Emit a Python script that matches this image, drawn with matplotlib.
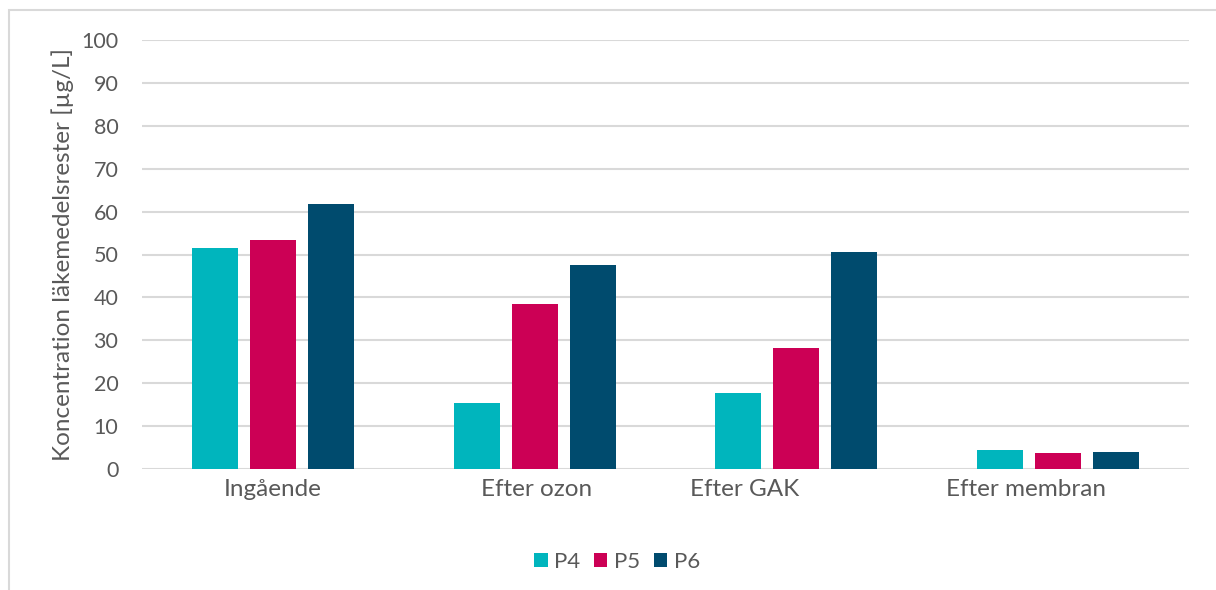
import numpy as np
import matplotlib.pyplot as plt
from matplotlib.patches import Rectangle
from matplotlib.transforms import ScaledTranslation

categories = ["Ingående", "Efter ozon", "Efter GAK", "Efter membran"]
series = ["P4", "P5", "P6"]
p4 = [51.5, 15.4, 17.7, 4.4]
p5 = [53.4, 38.5, 28.2, 3.7]
p6 = [61.8, 47.5, 50.6, 4.0]
colors = ["#00B5BD", "#CC0055", "#004B6E"]

plt.rcParams["font.family"] = ["Lato", "DejaVu Sans"]
text_color = "#595959"
grid_color = "#D9D9D9"

fig = plt.figure(figsize=(12.16, 5.9), dpi=100)
ax = fig.add_axes([142 / 1216, 1 - 469 / 590, (1189 - 142) / 1216, (469 - 40) / 590])

# light frame round the whole chart area
fig.patches.append(Rectangle((9 / 1216, -0.1), 1.2, 1 - 10 / 590 + 0.1,
                             transform=fig.transFigure, fill=False,
                             edgecolor="#D9D9D9", linewidth=1.5))

x = np.arange(len(categories))
step = 0.2216
width = 0.176
for i, (vals, name) in enumerate(zip([p4, p5, p6], series)):
    ax.bar(x + (i - 1) * step, vals, width, color=colors[i], label=name, zorder=3)

ax.set_xlim(-0.5, 3.5)
ax.set_ylim(0, 100)
ax.set_yticks(np.arange(0, 101, 10))
ax.yaxis.grid(True, color=grid_color, linewidth=1.5)
ax.set_axisbelow(True)
for s in ax.spines.values():
    s.set_visible(False)
ax.tick_params(axis="both", length=0, labelcolor=text_color)
ax.tick_params(axis="y", pad=17, labelsize=15.5)
ax.tick_params(axis="x", pad=7, labelsize=17.5)

ax.set_xticks(x)
ax.set_xticklabels(categories)
# category labels sit a little left of their groups
shifts = [0, 2, -52, -32]
for lab, dx in zip(ax.get_xticklabels(), shifts):
    lab.set_transform(lab.get_transform() + ScaledTranslation(dx / 100, 0, fig.dpi_scale_trans))

ax.set_ylabel("Koncentration läkemedelsrester [µg/L]", fontsize=17.5, color=text_color)
ax.yaxis.set_label_coords(-(142 - 74) / (1189 - 142), 0.5)

fig.legend(loc="center", bbox_to_anchor=(617 / 1216, 1 - 562 / 590), ncol=3,
           frameon=False, fontsize=16, labelcolor=text_color,
           handlelength=0.62, handleheight=0.62, handletextpad=0.3,
           columnspacing=0.6)

fig.savefig("out.png", dpi=100)
